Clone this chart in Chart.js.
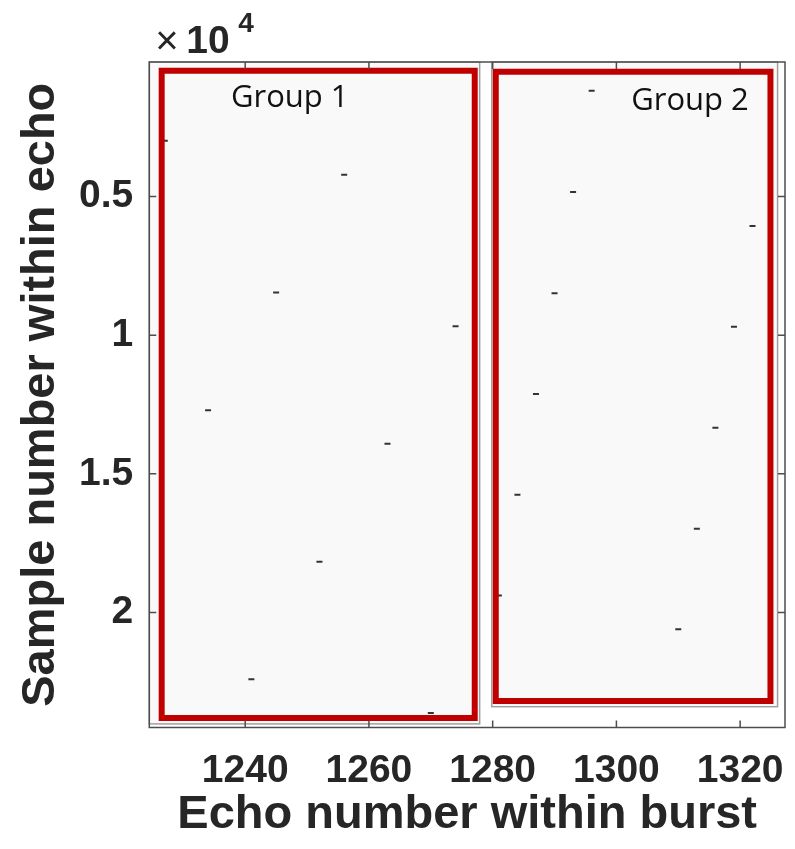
<!DOCTYPE html>
<html>
<head>
    <style>
        body { margin: 0; background: #fff; }
        #wrap { width: 795px; height: 849px; }
    </style>
    <script src="https://cdn.jsdelivr.net/npm/chart.js"></script>
</head>
<body>
    <div id="wrap"><canvas id="myChart"></canvas></div>
    <script>
        // echo number / sample number of every short return mark
        var group1Echo = [1227, 1256, 1245, 1274, 1234, 1263, 1252, 1241, 1270];
        var group1Sample = [2990, 4220, 8460, 9680, 12710, 13920, 18170, 22410, 23630];
        var group2Echo = [1296, 1293, 1322, 1290, 1319, 1287, 1316, 1284, 1313, 1281, 1310];
        var group2Sample = [1190, 4840, 6060, 8490, 9700, 12120, 13340, 15760, 16980, 19390, 20610];

        // red boxes around the two groups (axis units)
        var groupNames = ['Group 1', 'Group 2'];
        var groupEchoFrom = [1226.5, 1280.5];
        var groupEchoTo = [1277.1, 1324.9];
        var groupSampleFrom = [470, 500];
        var groupSampleTo = [23810, 23190];

        var xTicks = [1240, 1260, 1280, 1300, 1320];
        var yTicks = [5000, 10000, 15000, 20000];

        // the two image panels behind the marks
        var panels = [
            { x0: 1224.5, x1: 1277.9, y0: 150, y1: 24020 },
            { x0: 1279.85, x1: 1326.05, y0: 150, y1: 23400 }
        ];
        var labelPos = [{ x: 1247.2, y: 1780 }, { x: 1311.9, y: 1870 }];

        function points(xs, ys) {
            return xs.map(function(x, i) { return { x: x, y: ys[i] }; });
        }
        function box(i) {
            var a = groupEchoFrom[i], b = groupEchoTo[i], t = groupSampleFrom[i], u = groupSampleTo[i];
            return [{x: a, y: t}, {x: b, y: t}, {x: b, y: u}, {x: a, y: u}, {x: a, y: t}];
        }

        var boxDatasets = groupNames.map(function(name, i) {
            return {
                label: name,
                data: box(i),
                showLine: true,
                pointRadius: 0,
                borderColor: '#c00000',
                borderWidth: 6,
                borderJoinStyle: 'miter',
                borderCapStyle: 'square',
                order: 1
            };
        });

        var markStyle = {
            pointStyle: 'line',
            pointRadius: 3,
            borderWidth: 2,
            borderColor: '#333333',
            showLine: false,
            order: 2
        };

        var extras = {
            id: 'extras',
            beforeDatasetsDraw: function(chart) {
                var ctx = chart.ctx, xs = chart.scales.x, ys = chart.scales.y;
                ctx.save();
                panels.forEach(function(p) {
                    var l = xs.getPixelForValue(p.x0), r = xs.getPixelForValue(p.x1);
                    var t = ys.getPixelForValue(p.y0), b = ys.getPixelForValue(p.y1);
                    ctx.fillStyle = '#f9f9f9';
                    ctx.fillRect(l, t, r - l, b - t);
                    ctx.strokeStyle = '#a0a0a0';
                    ctx.lineWidth = 1.5;
                    ctx.strokeRect(l, t, r - l, b - t);
                });
                ctx.restore();
            },
            afterDraw: function(chart) {
                var ctx = chart.ctx, a = chart.chartArea, xs = chart.scales.x, ys = chart.scales.y;
                ctx.save();
                // frame and inward ticks
                ctx.strokeStyle = '#4d4d4d';
                ctx.lineWidth = 1.5;
                ctx.strokeRect(a.left, a.top, a.right - a.left, a.bottom - a.top);
                ctx.beginPath();
                xTicks.forEach(function(v) {
                    var px = xs.getPixelForValue(v);
                    ctx.moveTo(px, a.bottom); ctx.lineTo(px, a.bottom - 7);
                    ctx.moveTo(px, a.top); ctx.lineTo(px, a.top + 7);
                });
                yTicks.forEach(function(v) {
                    var py = ys.getPixelForValue(v);
                    ctx.moveTo(a.left, py); ctx.lineTo(a.left + 7, py);
                    ctx.moveTo(a.right, py); ctx.lineTo(a.right - 7, py);
                });
                ctx.stroke();

                // exponent label
                ctx.fillStyle = '#262626';
                ctx.textAlign = 'left';
                ctx.textBaseline = 'alphabetic';
                ctx.font = '40px "Liberation Sans"';
                ctx.fillText('\u00d7', a.left + 6, a.top - 8);
                ctx.font = 'bold 39px "Liberation Sans"';
                ctx.fillText('10', a.left + 37, a.top - 9);
                ctx.font = 'bold 28px "Liberation Sans"';
                ctx.fillText('4', a.left + 89, a.top - 30);

                // group names
                ctx.fillStyle = '#111';
                ctx.textAlign = 'center';
                ctx.font = '31px "Open Sans"';
                groupNames.forEach(function(name, i) {
                    ctx.fillText(name, xs.getPixelForValue(labelPos[i].x), ys.getPixelForValue(labelPos[i].y));
                });
                ctx.restore();
            }
        };

        var ctx = document.getElementById('myChart').getContext('2d');
        var myChart = new Chart(ctx, {
            type: 'scatter',
            data: {
                datasets: boxDatasets.concat([
                    Object.assign({ label: 'Group 1 marks', data: points(group1Echo, group1Sample) }, markStyle),
                    Object.assign({ label: 'Group 2 marks', data: points(group2Echo, group2Sample) }, markStyle)
                ])
            },
            options: {
                responsive: true,
                maintainAspectRatio: false,
                animation: false,
                events: [],
                layout: { padding: { left: 0, right: 10, top: 62, bottom: 0 } },
                plugins: { legend: { display: false }, tooltip: { enabled: false } },
                scales: {
                    x: {
                        type: 'linear',
                        min: 1224.5,
                        max: 1327.25,
                        grid: { display: false, drawTicks: false },
                        border: { display: false },
                        afterBuildTicks: function(scale) {
                            scale.ticks = xTicks.map(function(v) { return { value: v }; });
                        },
                        afterFit: function(scale) {
                            scale.height = 121.5;
                            scale.paddingLeft = 0;
                            scale.paddingRight = 0;
                        },
                        ticks: {
                            padding: 20,
                            maxRotation: 0,
                            color: '#262626',
                            font: { family: 'Liberation Sans', size: 39, weight: 'bold' },
                            callback: function(v) { return String(v); }
                        },
                        title: {
                            display: true,
                            text: 'Echo number within burst',
                            color: '#262626',
                            padding: { top: 0, bottom: 6 },
                            font: { family: 'Liberation Sans', size: 47, weight: 'bold' }
                        }
                    },
                    y: {
                        type: 'linear',
                        reverse: true,
                        min: 150,
                        max: 24150,
                        grid: { display: false, drawTicks: false },
                        border: { display: false },
                        afterBuildTicks: function(scale) {
                            scale.ticks = yTicks.map(function(v) { return { value: v }; });
                        },
                        afterFit: function(scale) {
                            scale.width = 149.3;
                            scale.paddingTop = 0;
                            scale.paddingBottom = 0;
                        },
                        ticks: {
                            padding: 16,
                            color: '#262626',
                            font: { family: 'Liberation Sans', size: 39, weight: 'bold' },
                            callback: function(v) { return String(v / 10000); }
                        },
                        title: {
                            display: true,
                            text: 'Sample number within echo',
                            color: '#262626',
                            padding: { top: 13, bottom: 0 },
                            font: { family: 'Liberation Sans', size: 47, weight: 'bold' }
                        }
                    }
                }
            },
            plugins: [extras]
        });
    </script>
</body>
</html>
